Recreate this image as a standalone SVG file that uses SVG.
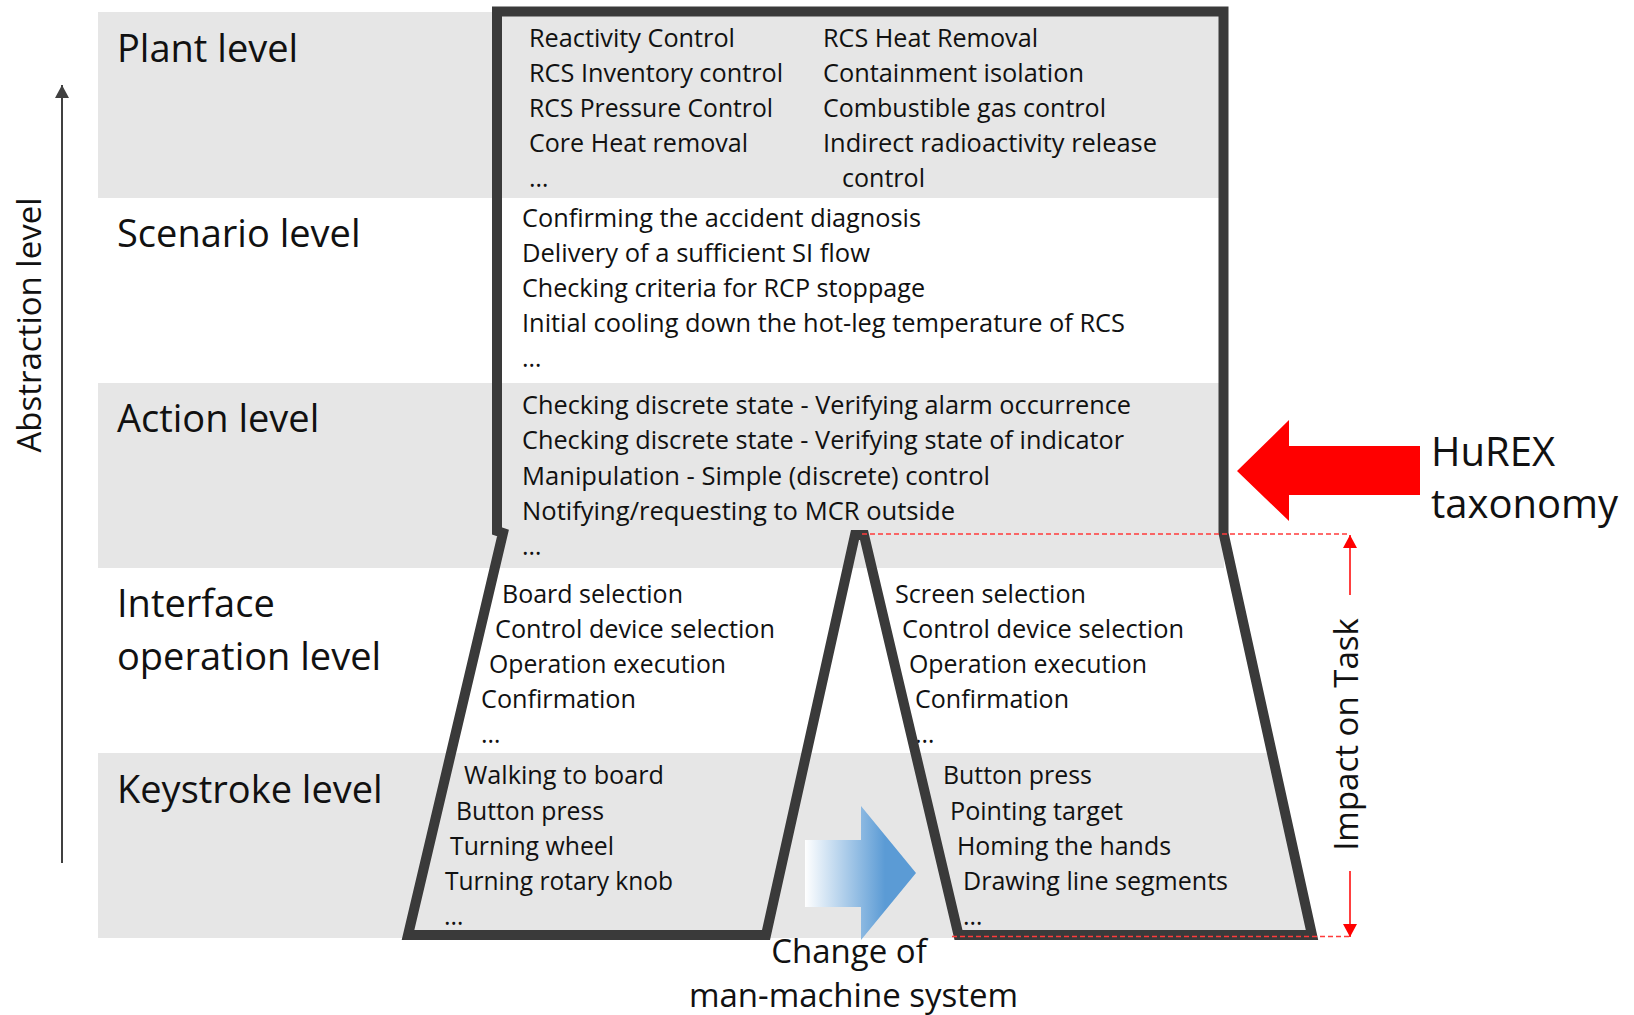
<svg xmlns="http://www.w3.org/2000/svg" width="1634" height="1015" viewBox="0 0 1634 1015">
<style>
.band{fill:#e6e6e6}
.lvl{font-family:"Open Sans","Liberation Sans",sans-serif;font-size:38px;fill:#111}
.t{font-family:"Open Sans","Liberation Sans",sans-serif;font-size:25px;fill:#111}
.big{font-family:"Open Sans","Liberation Sans",sans-serif;font-size:40px;fill:#111}
.side{font-family:"Open Sans","Liberation Sans",sans-serif;font-size:33px;fill:#111}
.outline{fill:none;stroke:#3a3a3a;stroke-width:10;stroke-linejoin:miter;stroke-miterlimit:4}
.red{stroke:#ff0000;stroke-width:1.5;fill:none}
.dash{stroke:#ff3b3b;stroke-width:1.5;stroke-dasharray:5 3;fill:none}
</style>
<defs>
<marker id="redHead" markerUnits="userSpaceOnUse" markerWidth="14" markerHeight="14" refX="13" refY="7" orient="auto"><path d="M0,0 L13,7 L0,14 Z" fill="#ff0000"/></marker>
<marker id="grayHead" markerUnits="userSpaceOnUse" markerWidth="14" markerHeight="15" refX="13" refY="7" orient="auto"><path d="M0,0 L13,7 L0,14 Z" fill="#404040"/></marker>
<linearGradient id="blueGrad" gradientUnits="userSpaceOnUse" x1="805" y1="0" x2="885" y2="0">
<stop offset="0" stop-color="#ffffff"/>
<stop offset="1" stop-color="#5b9bd5"/>
</linearGradient>
</defs>
<rect width="1634" height="1015" fill="#ffffff"/>

<g id="plant-level">
<rect class="band" x="98" y="12" width="1126" height="186"/>
<text class="lvl" x="117" y="62">Plant level</text>
<text class="t" x="529" y="46.7" textLength="206" lengthAdjust="spacingAndGlyphs">Reactivity Control</text>
<text class="t" x="529" y="82" textLength="254" lengthAdjust="spacingAndGlyphs">RCS Inventory control</text>
<text class="t" x="529" y="117" textLength="244" lengthAdjust="spacingAndGlyphs">RCS Pressure Control</text>
<text class="t" x="529" y="152" textLength="219" lengthAdjust="spacingAndGlyphs">Core Heat removal</text>
<text class="t" x="529" y="187">…</text>
<text class="t" x="823" y="46.7" textLength="215" lengthAdjust="spacingAndGlyphs">RCS Heat Removal</text>
<text class="t" x="823" y="82" textLength="261" lengthAdjust="spacingAndGlyphs">Containment isolation</text>
<text class="t" x="823" y="117" textLength="283" lengthAdjust="spacingAndGlyphs">Combustible gas control</text>
<text class="t" x="823" y="152" textLength="334" lengthAdjust="spacingAndGlyphs">Indirect radioactivity release</text>
<text class="t" x="842" y="187" textLength="83" lengthAdjust="spacingAndGlyphs">control</text>
</g>

<g id="scenario-level">
<text class="lvl" x="117" y="247">Scenario level</text>
<text class="t" x="522" y="226.7" textLength="399" lengthAdjust="spacingAndGlyphs">Confirming the accident diagnosis</text>
<text class="t" x="522" y="261.7" textLength="348" lengthAdjust="spacingAndGlyphs">Delivery of a sufficient SI flow</text>
<text class="t" x="522" y="296.7" textLength="403" lengthAdjust="spacingAndGlyphs">Checking criteria for RCP stoppage</text>
<text class="t" x="522" y="331.7" textLength="603" lengthAdjust="spacingAndGlyphs">Initial cooling down the hot-leg temperature of RCS</text>
<text class="t" x="522" y="366.7">…</text>
</g>

<g id="action-level">
<rect class="band" x="98" y="383" width="1126" height="185"/>
<text class="lvl" x="117" y="432">Action level</text>
<text class="t" x="522" y="414" textLength="609" lengthAdjust="spacingAndGlyphs">Checking discrete state - Verifying alarm occurrence</text>
<text class="t" x="522" y="449.3" textLength="602" lengthAdjust="spacingAndGlyphs">Checking discrete state - Verifying state of indicator</text>
<text class="t" x="522" y="484.6" textLength="468" lengthAdjust="spacingAndGlyphs">Manipulation - Simple (discrete) control</text>
<text class="t" x="522" y="520" textLength="433" lengthAdjust="spacingAndGlyphs">Notifying/requesting to MCR outside</text>
<text class="t" x="522" y="555.3">…</text>
</g>

<g id="interface-operation-level">
<text class="lvl" x="117" y="617">Interface</text>
<text class="lvl" x="117" y="670">operation level</text>
<text class="t" x="502" y="603" textLength="181" lengthAdjust="spacingAndGlyphs">Board selection</text>
<text class="t" x="495" y="638" textLength="280" lengthAdjust="spacingAndGlyphs">Control device selection</text>
<text class="t" x="489" y="673" textLength="237" lengthAdjust="spacingAndGlyphs">Operation execution</text>
<text class="t" x="481" y="708" textLength="155" lengthAdjust="spacingAndGlyphs">Confirmation</text>
<text class="t" x="481" y="743">…</text>
<text class="t" x="895" y="603" textLength="191" lengthAdjust="spacingAndGlyphs">Screen selection</text>
<text class="t" x="902" y="638" textLength="282" lengthAdjust="spacingAndGlyphs">Control device selection</text>
<text class="t" x="909" y="673" textLength="238" lengthAdjust="spacingAndGlyphs">Operation execution</text>
<text class="t" x="915" y="708" textLength="154" lengthAdjust="spacingAndGlyphs">Confirmation</text>
<text class="t" x="915" y="743">…</text>
</g>

<g id="keystroke-level">
<polygon class="band" points="98,753 1272,753 1312,938 98,938"/>
<text class="lvl" x="117" y="803">Keystroke level</text>
<text class="t" x="464" y="784" textLength="200" lengthAdjust="spacingAndGlyphs">Walking to board</text>
<text class="t" x="456" y="819.5" textLength="148" lengthAdjust="spacingAndGlyphs">Button press</text>
<text class="t" x="450" y="855" textLength="164" lengthAdjust="spacingAndGlyphs">Turning wheel</text>
<text class="t" x="445" y="889.5" textLength="228" lengthAdjust="spacingAndGlyphs">Turning rotary knob</text>
<text class="t" x="444" y="924.5">…</text>
<text class="t" x="943" y="784" textLength="149" lengthAdjust="spacingAndGlyphs">Button press</text>
<text class="t" x="950" y="819.5" textLength="173" lengthAdjust="spacingAndGlyphs">Pointing target</text>
<text class="t" x="957" y="855" textLength="214" lengthAdjust="spacingAndGlyphs">Homing the hands</text>
<text class="t" x="963" y="889.5" textLength="265" lengthAdjust="spacingAndGlyphs">Drawing line segments</text>
<text class="t" x="963" y="924.5">…</text>
</g>

<g id="hurex-taxonomy-outline">
<path class="outline" d="M497,531 L497,11.5 L1223.5,11.5 L1223.5,533 L1312,935 L958.5,935 L864,535 L855,535 L766,935 L408,935 L503,533 Z"/>
</g>

<g id="connectors">
<line class="dash" x1="862" y1="534" x2="1350" y2="534"/>
<line class="dash" x1="952" y1="936.5" x2="1350" y2="936.5"/>
<line class="red" x1="1350" y1="595" x2="1350" y2="535" marker-end="url(#redHead)"/>
<line class="red" x1="1350" y1="871" x2="1350" y2="937" marker-end="url(#redHead)"/>
<line x1="62" y1="863" x2="62" y2="85" stroke="#404040" stroke-width="2" marker-end="url(#grayHead)"/>
<polygon points="1237,471 1289,420 1289,446 1420,446 1420,495 1289,495 1289,521" fill="#ff0000"/>
<polygon points="805,840 861,840 861,806 916,873 861,940 861,907 805,907" fill="url(#blueGrad)"/>
</g>

<g id="abstraction-label">
<text class="side" transform="translate(41,325) rotate(-90)" text-anchor="middle" font-size="34.5">Abstraction level</text>
</g>
<g id="impact-label">
<text class="side" transform="translate(1358,734.5) rotate(-90)" text-anchor="middle">Impact on Task</text>
</g>
<g id="hurex-label">
<text class="big" x="1431" y="466">HuREX</text>
<text class="big" x="1431" y="518">taxonomy</text>
</g>
<g id="change-label">
<text class="side" x="849" y="963" text-anchor="middle">Change of</text>
<text class="side" x="853.5" y="1007" text-anchor="middle">man-machine system</text>
</g>
</svg>
